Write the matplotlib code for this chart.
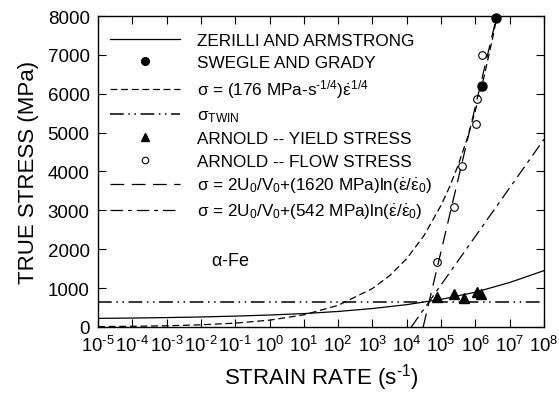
import numpy as np
import matplotlib.pyplot as plt
from matplotlib.ticker import NullLocator, FixedLocator

plt.rcParams['font.family'] = ['Liberation Sans', 'DejaVu Sans']
plt.rcParams['mathtext.fontset'] = 'stixsans'
plt.rcParams['mathtext.default'] = 'regular'

HY = '\u2010'  # short hyphen for the superscript minus

# ---------------------------------------------------------------- data
# Zerilli-Armstrong model, read at each decade of strain rate
za_exp = [-5, -4, -3, -2, -1, 0, 1, 2, 3, 4, 5, 6, 7, 8]
za_stress = [222, 230, 242, 258, 280, 308, 345, 400, 475, 575, 710, 895, 1145, 1450]

# sigma = 176 MPa s^-1/4 * rate^1/4
p4_exp = [-5, -4, -3, -2, -1, 0, 1, 2, 3, 3.5, 4, 4.5, 5, 5.25, 5.5, 5.75, 6, 6.25, 6.5, 6.63]
p4_stress = [10, 18, 31, 56, 99, 176, 313, 557, 990, 1320, 1760, 2350, 3130, 3610,
             4170, 4820, 5570, 6430, 7420, 8000]

# twinning stress (constant)
twin_rate = [1e-5, 1e8]
twin_stress = [650, 650]

# ln-law lines (straight on a log axis)
ln1620_rate = [3.0e4, 4.2e6]
ln1620_stress = [0, 8000]
ln542_rate = [1.35e4, 1e8]
ln542_stress = [0, 4830]

# Swegle and Grady
sg_rate = [1.55e6, 4.0e6]
sg_stress = [6200, 7950]

# Arnold yield / flow stress
ay_rate = [7.8e4, 2.3e5, 4.5e5, 1.1e6, 1.5e6]
ay_stress = [760, 850, 740, 910, 860]
af_rate = [7.8e4, 2.3e5, 4.2e5, 1.05e6, 1.15e6, 1.6e6]
af_stress = [1680, 3080, 4150, 5220, 5860, 6990]

x_decades = list(range(-5, 9))
y_ticks = list(range(0, 8001, 1000))

# ---------------------------------------------------------------- plot
fig = plt.figure(figsize=(5.59, 4.02), dpi=100)
ax = fig.add_axes([0.1753, 0.1841, 0.7979, 0.7736])

lw = 0.9
h_za, = ax.plot(10.0 ** np.array(za_exp), za_stress, color='k', lw=lw, ls='-')
h_sg, = ax.plot(sg_rate, sg_stress, ls='none', marker='o', ms=6.5, color='k', clip_on=False)
h_p4, = ax.plot(10.0 ** np.array(p4_exp), p4_stress, color='k', lw=lw, ls=(0, (5.5, 3)))
h_tw, = ax.plot(twin_rate, twin_stress, color='k', lw=1.1, ls=(0, (9, 3, 1, 3, 1, 3)))
h_ay, = ax.plot(ay_rate, ay_stress, ls='none', marker='^', ms=7.5, color='k')
h_af, = ax.plot(af_rate, af_stress, ls='none', marker='o', ms=5.5, mfc='white',
                mec='k', mew=0.8)
h_l1, = ax.plot(ln1620_rate, ln1620_stress, color='k', lw=lw, ls=(0, (11, 6)))
h_l2, = ax.plot(ln542_rate, ln542_stress, color='k', lw=lw, ls=(0, (10, 4, 3, 4)))

ax.text(10 ** -1.7, 1720, r'$\alpha$-Fe', fontsize=13, va='center', ha='left')

labels = [
    'ZERILLI AND ARMSTRONG',
    'SWEGLE AND GRADY',
    r'$\sigma$ = (176 MPa-s$^{' + HY + r'1/4}$)$\dot{\varepsilon}^{1/4}$',
    r'$\sigma_{TWIN}$',
    'ARNOLD -- YIELD STRESS',
    'ARNOLD -- FLOW STRESS',
    r'$\sigma$ = 2U$_0$/V$_0$+(1620 MPa)ln($\dot{\varepsilon}$/$\dot{\varepsilon}_0$)',
    r'$\sigma$ = 2U$_0$/V$_0$+(542 MPa)ln($\dot{\varepsilon}$/$\dot{\varepsilon}_0$)',
]
handles = [h_za, h_sg, h_p4, h_tw, h_ay, h_af, h_l1, h_l2]
ax.legend(handles, labels, loc='upper left', bbox_to_anchor=(-0.011, 1.0),
          frameon=False, fontsize=12.3, handlelength=4.1, handletextpad=1.0,
          labelspacing=0.42, numpoints=1, borderaxespad=0.6, markerscale=0.85)

ax.set_xscale('log')
ax.set_xlim(1e-5, 1e8)
ax.set_ylim(0, 8000)
ax.xaxis.set_major_locator(FixedLocator([10.0 ** k for k in x_decades]))
ax.set_xticklabels(['$10^{' + str(k).replace('-', HY) + '}$' for k in x_decades])
ax.xaxis.set_minor_locator(NullLocator())
ax.set_yticks(y_ticks)
ax.tick_params(direction='in', top=True, right=True, length=6, width=0.8,
               labelsize=13.5, pad=6)
ax.tick_params(axis='x', labelsize=13.3)
for s in ax.spines.values():
    s.set_linewidth(1.0)

ax.set_xlabel('STRAIN RATE (s$^{' + HY + '1}$)', fontsize=16, labelpad=4)
ax.set_ylabel('TRUE STRESS (MPa)', fontsize=16, labelpad=6)

fig.savefig('out.png', dpi=100)
